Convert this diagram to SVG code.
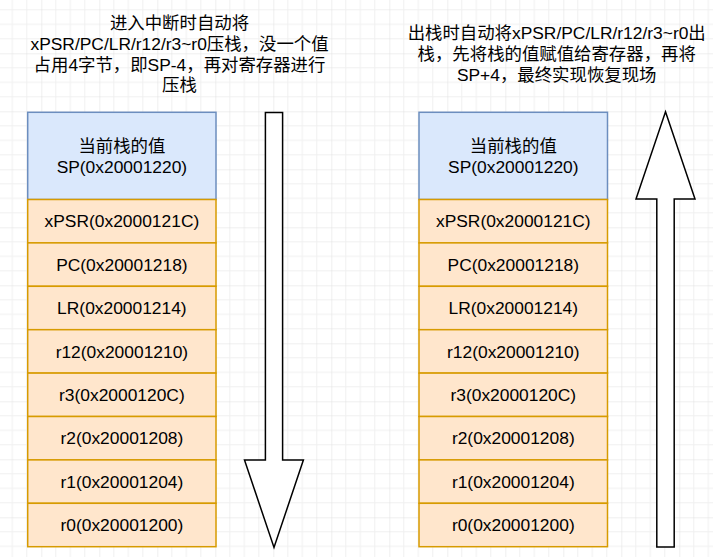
<svg xmlns="http://www.w3.org/2000/svg" width="713" height="557" viewBox="0 0 713 557">
<style>
text{font-family:"Liberation Sans","Noto Sans CJK SC",Arial,sans-serif;font-size:17.4px;fill:#000;text-anchor:middle}
.sp{fill:#dae8fc;stroke:#6c8ebf;stroke-width:1.5}
.row{fill:#ffe6cc;stroke:#d79b00;stroke-width:1.5}
.arr{fill:#ffffff;stroke:#000;stroke-width:1.5;stroke-linejoin:miter}
</style>
<defs>
<pattern id="grid" patternUnits="userSpaceOnUse" x="41.3" y="53.3" width="58" height="58">
<path d="M14.5 0V58M29 0V58M43.5 0V58M0 14.5H58M0 29H58M0 43.5H58" stroke="#f0f0f0" stroke-width="1" fill="none"/>
<path d="M0 0V58M0 0H58" stroke="#dfdfdf" stroke-width="1" fill="none"/>
</pattern>
</defs>
<rect width="713" height="557" fill="#ffffff"/>
<rect width="713" height="557" fill="url(#grid)"/>

<g id="title-push">
<text x="179.5" y="29">进入中断时自动将</text>
<text x="179.5" y="49.8">xPSR/PC/LR/r12/r3~r0压栈，没一个值</text>
<text x="179.5" y="70.6">占用4字节，即SP-4，再对寄存器进行</text>
<text x="179.5" y="91.4">压栈</text>
</g>
<g id="title-pop">
<text x="556.7" y="39">出栈时自动将xPSR/PC/LR/r12/r3~r0出</text>
<text x="556.7" y="59.8">栈，先将栈的值赋值给寄存器，再将</text>
<text x="556.7" y="80.6">SP+4，最终实现恢复现场</text>
</g>

<g id="left-sp"><rect class="sp" x="27.7" y="112.3" width="188.3" height="87.2"/><text x="121.9" y="152">当前栈的值</text><text x="121.9" y="173">SP(0x20001220)</text></g>
<g id="left-xpsr"><rect class="row" x="27.7" y="199.5" width="188.3" height="43.4"/><text x="121.9" y="227.4">xPSR(0x2000121C)</text></g>
<g id="left-pc"><rect class="row" x="27.7" y="242.9" width="188.3" height="43.4"/><text x="121.9" y="270.8">PC(0x20001218)</text></g>
<g id="left-lr"><rect class="row" x="27.7" y="286.3" width="188.3" height="43.4"/><text x="121.9" y="314.2">LR(0x20001214)</text></g>
<g id="left-r12"><rect class="row" x="27.7" y="329.7" width="188.3" height="43.4"/><text x="121.9" y="357.6">r12(0x20001210)</text></g>
<g id="left-r3"><rect class="row" x="27.7" y="373.1" width="188.3" height="43.4"/><text x="121.9" y="401">r3(0x2000120C)</text></g>
<g id="left-r2"><rect class="row" x="27.7" y="416.5" width="188.3" height="43.4"/><text x="121.9" y="444.4">r2(0x20001208)</text></g>
<g id="left-r1"><rect class="row" x="27.7" y="459.9" width="188.3" height="43.4"/><text x="121.9" y="487.8">r1(0x20001204)</text></g>
<g id="left-r0"><rect class="row" x="27.7" y="503.3" width="188.3" height="43.4"/><text x="121.9" y="531.2">r0(0x20001200)</text></g>

<g id="right-sp"><rect class="sp" x="419" y="112.3" width="188.5" height="87.2"/><text x="513.3" y="152">当前栈的值</text><text x="513.3" y="173">SP(0x20001220)</text></g>
<g id="right-xpsr"><rect class="row" x="419" y="199.5" width="188.5" height="43.4"/><text x="513.3" y="227.4">xPSR(0x2000121C)</text></g>
<g id="right-pc"><rect class="row" x="419" y="242.9" width="188.5" height="43.4"/><text x="513.3" y="270.8">PC(0x20001218)</text></g>
<g id="right-lr"><rect class="row" x="419" y="286.3" width="188.5" height="43.4"/><text x="513.3" y="314.2">LR(0x20001214)</text></g>
<g id="right-r12"><rect class="row" x="419" y="329.7" width="188.5" height="43.4"/><text x="513.3" y="357.6">r12(0x20001210)</text></g>
<g id="right-r3"><rect class="row" x="419" y="373.1" width="188.5" height="43.4"/><text x="513.3" y="401">r3(0x2000120C)</text></g>
<g id="right-r2"><rect class="row" x="419" y="416.5" width="188.5" height="43.4"/><text x="513.3" y="444.4">r2(0x20001208)</text></g>
<g id="right-r1"><rect class="row" x="419" y="459.9" width="188.5" height="43.4"/><text x="513.3" y="487.8">r1(0x20001204)</text></g>
<g id="right-r0"><rect class="row" x="419" y="503.3" width="188.5" height="43.4"/><text x="513.3" y="531.2">r0(0x20001200)</text></g>

<g id="arrow-down"><path class="arr" d="M265.4 112.4H282.6V460H303.4L274 547.5L244.5 460H265.4Z"/></g>
<g id="arrow-up"><path class="arr" d="M665.5 111.8L695 199H674.2V547H656.8V199H636Z"/></g>
<g id="connectors"/>
</svg>
